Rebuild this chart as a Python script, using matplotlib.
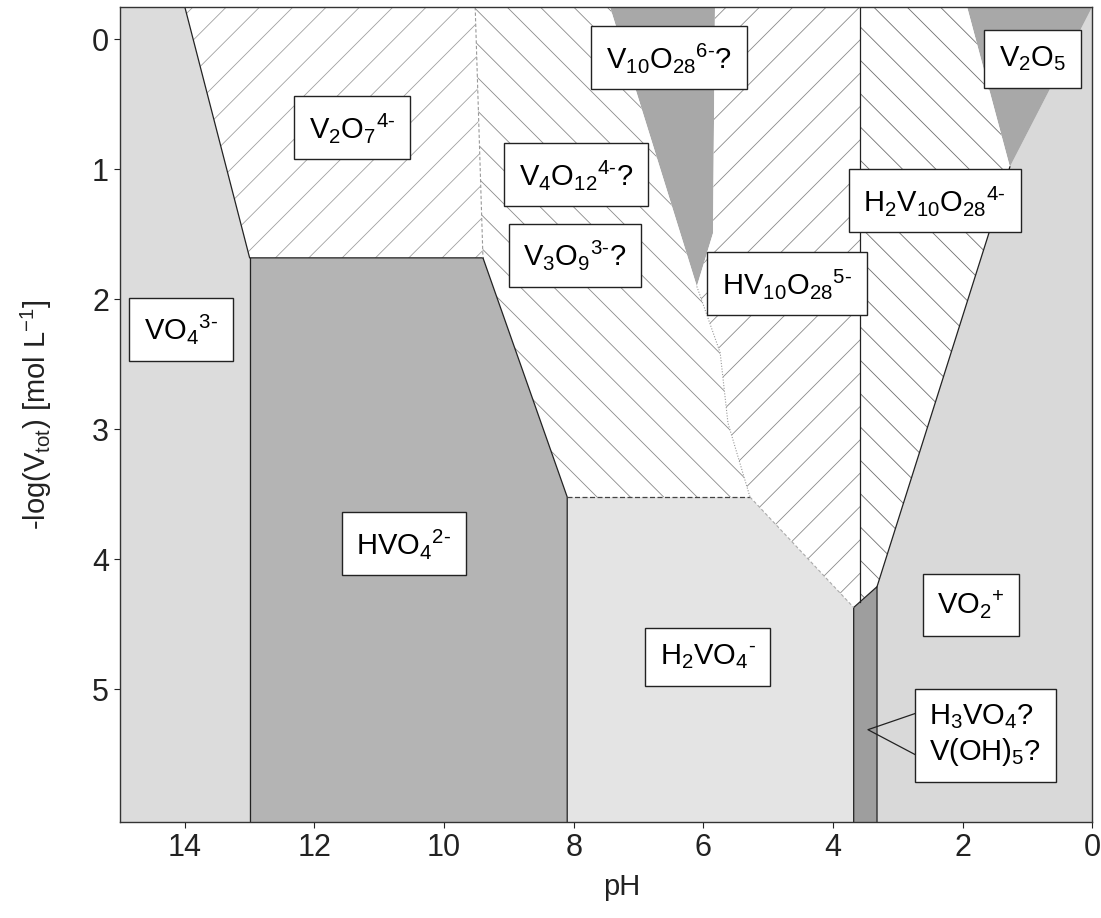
import matplotlib
matplotlib.use("Agg")
import matplotlib.pyplot as plt
from matplotlib.patches import Polygon

plt.rcParams['font.family'] = ['Liberation Sans', 'DejaVu Sans']
plt.rcParams['mathtext.fontset'] = 'custom'
plt.rcParams['mathtext.rm'] = 'Liberation Sans'
plt.rcParams['mathtext.it'] = 'Liberation Sans:italic'
plt.rcParams['mathtext.bf'] = 'Liberation Sans:bold'
plt.rcParams['hatch.linewidth'] = 0.6

# axis range
T, B = -0.25, 6.02

# predominance regions, (pH, -log Vtot) corners
vo4 = [(15, T), (14, T), (13, 1.68), (13, B), (15, B)]
v2o7 = [(14, T), (9.52, T), (9.40, 1.68), (13, 1.68)]
hvo4 = [(13, 1.68), (9.40, 1.68), (8.10, 3.52), (8.10, B), (13, B)]
v4o12 = [(9.52, T), (7.44, T), (6.10, 1.90), (5.93, 2.14), (5.74, 2.41),
         (5.62, 2.95), (5.28, 3.52), (8.10, 3.52), (9.40, 1.68)]
v10o28 = [(7.44, T), (5.82, T), (5.85, 1.49), (6.10, 1.90)]
hv10o28 = [(5.82, T), (3.58, T), (3.58, 4.33), (3.68, 4.37), (5.28, 3.52),
           (5.62, 2.95), (5.74, 2.41), (5.93, 2.14), (6.10, 1.90), (5.85, 1.49)]
h2vo4 = [(8.10, 3.52), (5.28, 3.52), (3.68, 4.37), (3.68, B), (8.10, B)]
h3vo4 = [(3.68, 4.37), (3.32, 4.21), (3.32, B), (3.68, B)]
h2v10o28 = [(3.58, T), (1.93, T), (1.27, 0.98), (3.32, 4.21), (3.58, 4.33)]
v2o5 = [(1.93, T), (0, T), (1.27, 0.98)]
vo2 = [(0, T), (1.27, 0.98), (3.32, 4.21), (3.32, B), (0, B)]

# species labels and where they sit
species = [r'V$_2$O$_7$$^{4\text{-}}$', r'VO$_4$$^{3\text{-}}$',
           r'V$_{10}$O$_{28}$$^{6\text{-}}$?', r'V$_4$O$_{12}$$^{4\text{-}}$?',
           r'V$_3$O$_9$$^{3\text{-}}$?', r'HV$_{10}$O$_{28}$$^{5\text{-}}$',
           r'H$_2$V$_{10}$O$_{28}$$^{4\text{-}}$', r'V$_2$O$_5$',
           r'HVO$_4$$^{2\text{-}}$', r'H$_2$VO$_4$$^{\text{-}}$', r'VO$_2$$^{+}$',
           'H$_3$VO$_4$?\nV(OH)$_5$?']
label_ph = [11.42, 14.06, 6.53, 7.96, 7.98, 4.71, 2.43, 0.92, 10.62, 5.93, 1.87, 1.65]
label_y = [0.68, 2.23, 0.14, 1.04, 1.66, 1.88, 1.24, 0.15, 3.88, 4.75, 4.35, 5.35]

fig = plt.figure(figsize=(11.01, 9.18), dpi=100)
ax = fig.add_axes([0.109, 0.1046, 0.883, 0.8878])

fills = [
    (vo4, '#dcdcdc', None, None),
    (hvo4, '#b4b4b4', None, None),
    (h2vo4, '#e4e4e4', None, None),
    (vo2, '#d9d9d9', None, None),
    (v10o28, '#a8a8a8', None, None),
    (v2o5, '#a8a8a8', None, None),
    (h3vo4, '#9e9e9e', None, None),
    (v2o7, 'white', '/', '#a0a0a0'),
    (v4o12, 'white', '\\', '#8a8a8a'),
    (hv10o28, 'white', '/', '#8a8a8a'),
    (h2v10o28, 'white', '\\', '#6e6e6e'),
]
for pts, fc, hatch, hc in fills:
    if hatch:
        ax.add_patch(Polygon(pts, closed=True, facecolor=fc, edgecolor=hc,
                             hatch=hatch, linewidth=0))
    else:
        ax.add_patch(Polygon(pts, closed=True, facecolor=fc, edgecolor='none'))

# boundaries
def line(pts, **kw):
    ax.plot([p[0] for p in pts], [p[1] for p in pts], **kw)

solid = dict(color='#222222', lw=0.9)
line([(14, T), (13, 1.68), (9.40, 1.68)], **solid)
line([(13, 1.68), (13, B)], **solid)
line([(9.40, 1.68), (8.10, 3.52), (8.10, B)], **solid)
line([(3.58, T), (3.58, 4.33)], **solid)
line([(1.27, 0.98), (3.32, 4.21)], **solid)
line([(3.68, B), (3.68, 4.37), (3.32, 4.21), (3.32, B)], **solid)
line([(8.10, 3.52), (5.28, 3.52)], color='#444444', lw=0.9, ls=(0, (4, 2)))
line([(9.52, T), (9.40, 1.68)], color='#999999', lw=0.8, ls=(0, (3, 2)))
line([(6.10, 1.90), (5.93, 2.14), (5.74, 2.41), (5.62, 2.95), (5.28, 3.52)],
     color='#999999', lw=0.8, ls=(0, (1, 1.5)))
line([(5.28, 3.52), (3.68, 4.37)], color='#aaaaaa', lw=0.8, ls=(0, (3, 2)))

# pointer lines to the narrow H3VO4 strip
line([(2.70, 5.18), (3.46, 5.31), (2.70, 5.51)], color='#222222', lw=0.9)

for s, x, y in zip(species, label_ph, label_y):
    ax.text(x, y, s, fontsize=21, ha='center', va='center', multialignment='left',
            bbox=dict(boxstyle='square,pad=0.5', facecolor='white',
                      edgecolor='#222222', linewidth=1.0))

ax.set_xlim(15, 0)
ax.set_ylim(B, T)
ax.set_xticks(range(0, 15, 2))
ax.set_yticks(range(0, 6))
ax.tick_params(direction='out', length=4, width=0.8, labelsize=22, pad=4,
               colors='#222222')
for sp in ax.spines.values():
    sp.set_linewidth(1.0)
    sp.set_color('#333333')

ax.set_xlabel('pH', fontsize=21, color='#222222')
ax.xaxis.set_label_coords(0.516, -0.063)
ax.set_ylabel(r'-log(V$_{\mathrm{tot}}$) [mol L$^{-1}$]', fontsize=21, color='#222222')
ax.yaxis.set_label_coords(-0.068, 0.5)

fig.savefig('out.png', dpi=100)
